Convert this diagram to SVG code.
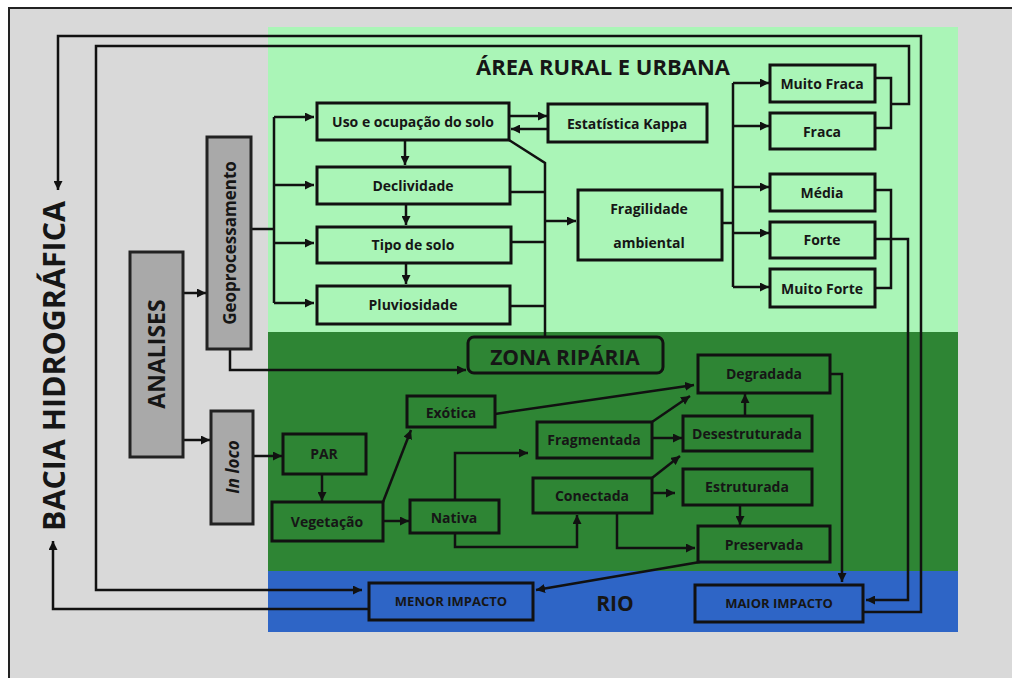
<svg xmlns="http://www.w3.org/2000/svg" width="1012" height="678" viewBox="0 0 1012 678">
<defs>
<marker id="ah" markerUnits="userSpaceOnUse" markerWidth="10" markerHeight="9" refX="9" refY="4.5" orient="auto">
<path d="M0,0 L9,4.5 L0,9 z" fill="#111"/>
</marker>
<style>
.t{font-family:"Open Sans","Liberation Sans",sans-serif;font-weight:700;fill:#161616;text-anchor:middle;dominant-baseline:central}
.b{font-size:14px}
.box{stroke:#111;stroke-width:3;fill:none}
.gbox{stroke:#222;stroke-width:3;fill:#a9a9a9}
.c{fill:none;stroke:#111;stroke-width:2.5}
.a{marker-end:url(#ah)}
</style>
</defs>
<rect x="0" y="0" width="1012" height="678" fill="#ffffff"/>
<rect x="9" y="8" width="1010" height="680" fill="#d9d9d9" stroke="#222" stroke-width="2"/>
<rect x="268" y="27" width="690" height="305" fill="#aaf5b7"/>
<rect x="268" y="332" width="690" height="239" fill="#2e8534"/>
<rect x="268" y="571" width="690" height="61" fill="#2e65c6"/>

<text class="t" x="603" y="66" font-size="22" textLength="254" lengthAdjust="spacingAndGlyphs">ÁREA RURAL E URBANA</text>
<text class="t" x="615" y="603" font-size="21" font-weight="600">RIO</text>

<g id="connectors">
<path class="c a" d="M863,612 H921 V36 H58 V190"/>
<path class="c" d="M875,78 H891 V128 H875"/>
<path class="c a" d="M891,104 H909 V46 H96 V590 H362"/>
<path class="c" d="M875,190 H891 V288 H875"/>
<path class="c a" d="M875,239 H908 V600 H866"/>
<path class="c a" d="M830,374 H842 V582"/>
<path class="c a" d="M369,609 H53 V541"/>
<path class="c a" d="M700,562 L536,590"/>
<path class="c a" d="M183,293 H206"/>
<path class="c a" d="M183,440 H210"/>
<path class="c" d="M251,229 H274 M274,117 V303"/>
<path class="c a" d="M274,117 H314"/>
<path class="c a" d="M274,185 H314"/>
<path class="c a" d="M274,243 H314"/>
<path class="c a" d="M274,303 H314"/>
<path class="c a" d="M230,349 V370 H466"/>
<path class="c a" d="M253,456 H282"/>
<path class="c a" d="M509,116 H547"/>
<path class="c a" d="M548,129 H511"/>
<path class="c a" d="M405,140 V165"/>
<path class="c a" d="M406,204 V225"/>
<path class="c a" d="M406,263 V284"/>
<path class="c" d="M509,140 L545,163 V337 M510,192 H545 M511,242 H545 M510,306 H545"/>
<path class="c a" d="M545,221 H576"/>
<path class="c" d="M722,223 H733 M733,83 V287"/>
<path class="c a" d="M733,83 H769"/>
<path class="c a" d="M733,126 H769"/>
<path class="c a" d="M733,187 H769"/>
<path class="c a" d="M733,233 H769"/>
<path class="c a" d="M733,287 H769"/>
<path class="c a" d="M322,474 V501"/>
<path class="c a" d="M383,502 L411,430"/>
<path class="c a" d="M383,521 H409"/>
<path class="c a" d="M495,414 L694,385"/>
<path class="c a" d="M652,422 L690,396"/>
<path class="c a" d="M652,438 H682"/>
<path class="c a" d="M652,478 L680,456"/>
<path class="c a" d="M652,493 H675"/>
<path class="c a" d="M745,416 V394"/>
<path class="c a" d="M740,505 V525"/>
<path class="c a" d="M455,500 V453 H528"/>
<path class="c a" d="M455,533 V547 H577 V515"/>
<path class="c a" d="M617,513 V548 H695"/>
</g>

<g id="bacia"><text class="t" transform="translate(53,366) rotate(-90)" font-size="31" textLength="330" lengthAdjust="spacingAndGlyphs">BACIA HIDROGRÁFICA</text></g>
<g id="analises"><rect class="gbox" x="130" y="252" width="53" height="205"/><text class="t" transform="translate(156,354) rotate(-90)" font-size="23">ANALISES</text></g>
<g id="geoprocessamento"><rect class="gbox" x="207" y="137" width="44" height="212"/><text class="t" transform="translate(229,243) rotate(-90)" font-size="17" font-weight="600">Geoprocessamento</text></g>
<g id="inloco"><rect class="gbox" x="211" y="411" width="42" height="113"/><text class="t" transform="translate(232,467) rotate(-90)" font-size="17" font-style="italic" font-weight="600">In loco</text></g>

<g id="uso"><rect class="box" x="317" y="103" width="192" height="37"/><text class="t b" x="413" y="121">Uso e ocupação do solo</text></g>
<g id="kappa"><rect class="box" x="548" y="104" width="159" height="38"/><text class="t b" x="627" y="123">Estatística Kappa</text></g>
<g id="declividade"><rect class="box" x="317" y="167" width="193" height="37"/><text class="t b" x="413" y="185">Declividade</text></g>
<g id="tipo"><rect class="box" x="317" y="227" width="194" height="36"/><text class="t b" x="413" y="244">Tipo de solo</text></g>
<g id="pluviosidade"><rect class="box" x="317" y="286" width="193" height="38"/><text class="t b" x="413" y="304">Pluviosidade</text></g>
<g id="fragilidade"><rect class="box" x="578" y="190" width="144" height="70"/><text class="t b" x="649" y="208">Fragilidade</text><text class="t b" x="649" y="242">ambiental</text></g>
<g id="muitofraca"><rect class="box" x="770" y="65" width="105" height="37"/><text class="t b" x="822" y="83">Muito Fraca</text></g>
<g id="fraca"><rect class="box" x="770" y="113" width="105" height="36"/><text class="t b" x="822" y="131">Fraca</text></g>
<g id="media"><rect class="box" x="770" y="174" width="105" height="37"/><text class="t b" x="822" y="192">Média</text></g>
<g id="forte"><rect class="box" x="770" y="222" width="105" height="36"/><text class="t b" x="822" y="239">Forte</text></g>
<g id="muitoforte"><rect class="box" x="770" y="269" width="105" height="38"/><text class="t b" x="822" y="288">Muito Forte</text></g>

<g id="zona"><rect class="box" x="468" y="337" width="195" height="36" rx="6"/><text class="t" x="565" y="357" font-size="21">ZONA RIPÁRIA</text></g>
<g id="exotica"><rect class="box" x="407" y="396" width="88" height="31"/><text class="t b" x="451" y="412">Exótica</text></g>
<g id="par"><rect class="box" x="283" y="434" width="83" height="40"/><text class="t b" x="324" y="453">PAR</text></g>
<g id="vegetacao"><rect class="box" x="272" y="502" width="111" height="39"/><text class="t b" x="327" y="521">Vegetação</text></g>
<g id="nativa"><rect class="box" x="410" y="500" width="89" height="33"/><text class="t b" x="454" y="517">Nativa</text></g>
<g id="fragmentada"><rect class="box" x="537" y="422" width="115" height="36"/><text class="t b" x="594" y="439">Fragmentada</text></g>
<g id="conectada"><rect class="box" x="533" y="478" width="119" height="35"/><text class="t b" x="592" y="495">Conectada</text></g>
<g id="degradada"><rect class="box" x="698" y="355" width="132" height="38"/><text class="t b" x="764" y="373">Degradada</text></g>
<g id="desestruturada"><rect class="box" x="683" y="416" width="129" height="35"/><text class="t b" x="747" y="433">Desestruturada</text></g>
<g id="estruturada"><rect class="box" x="683" y="469" width="129" height="36"/><text class="t b" x="747" y="486">Estruturada</text></g>
<g id="preservada"><rect class="box" x="698" y="526" width="132" height="36"/><text class="t b" x="764" y="544">Preservada</text></g>

<g id="menor"><rect class="box" x="369" y="583" width="164" height="37"/><text class="t" x="451" y="601" font-size="13">MENOR IMPACTO</text></g>
<g id="maior"><rect class="box" x="695" y="585" width="168" height="37"/><text class="t" x="779" y="603" font-size="13">MAIOR IMPACTO</text></g>
</svg>
